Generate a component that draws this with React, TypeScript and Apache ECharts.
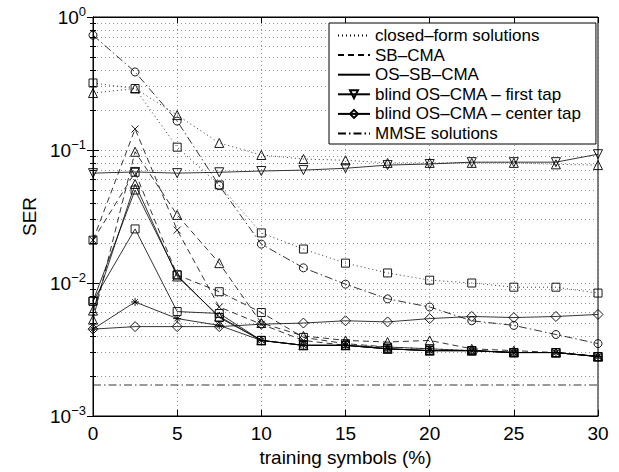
import React, { useEffect, useRef } from "react";
import * as echarts from "echarts";

const xs = [0, 2.5, 5, 7.5, 10, 12.5, 15, 17.5, 20, 22.5, 25, 27.5, 30];

// closed-form solutions (dotted)
const cfTri = [0.268, 0.29, 0.183, 0.113, 0.0917, 0.0855, 0.0837, 0.080, 0.080, 0.080, 0.080, 0.078, 0.077];
const cfSq = [0.319, 0.29, 0.105, 0.0546, 0.0238, 0.018, 0.0141, 0.0119, 0.0105, 0.0100, 0.0093, 0.0093, 0.0084];
// curve with circles (dash-dot)
const mmCirc = [0.73, 0.386, 0.165, 0.054, 0.0196, 0.013, 0.0098, 0.0076, 0.0066, 0.0052, 0.0048, 0.0041, 0.0035];
// SB-CMA (dashed)
const sbX = [0.021, 0.144, 0.025, 0.0066, 0.0049, 0.0037, 0.0034, 0.0033, 0.0032, 0.0031, 0.0030, 0.0030, 0.0028];
const sbTri = [0.0053, 0.097, 0.0325, 0.0141, 0.0050, 0.0040, 0.0037, 0.0036, 0.0037, 0.0032, 0.0031, 0.0030, 0.0028];
const sbSq = [0.021, 0.068, 0.0115, 0.0086, 0.0060, 0.0039, 0.0035, 0.0033, 0.0032, 0.0031, 0.0030, 0.0030, 0.0028];
// OS-SB-CMA (solid)
const osTri = [0.0062, 0.0555, 0.0112, 0.0056, 0.0037, 0.0034, 0.0034, 0.0032, 0.0031, 0.0031, 0.0030, 0.0030, 0.0028];
const osSqA = [0.0073, 0.050, 0.0115, 0.0055, 0.0037, 0.0034, 0.0034, 0.0032, 0.0031, 0.0031, 0.0030, 0.0030, 0.0028];
const osSqB = [0.0073, 0.0255, 0.0061, 0.0059, 0.0037, 0.0034, 0.0034, 0.0032, 0.0031, 0.0031, 0.0030, 0.0030, 0.0028];
const osStar = [0.0045, 0.0072, 0.0054, 0.0048, 0.0037, 0.0034, 0.0034, 0.0032, 0.0031, 0.0031, 0.0030, 0.0030, 0.0028];
// blind OS-CMA
const blindFirst = [0.067, 0.0684, 0.067, 0.068, 0.0695, 0.0706, 0.0729, 0.077, 0.0785, 0.081, 0.081, 0.081, 0.093];
const blindCenter = [0.0045, 0.0047, 0.0047, 0.0047, 0.0049, 0.0050, 0.0052, 0.0051, 0.0054, 0.0056, 0.0055, 0.0056, 0.0058];
// MMSE solutions (horizontal)
const mmseX = [0, 30];
const mmse = [0.00171, 0.00171];

const legendNames = [
  "closed–form solutions",
  "SB–CMA",
  "OS–SB–CMA",
  "blind OS–CMA – first tap",
  "blind OS–CMA – center tap",
  "MMSE solutions",
];
const legendHasMarker = [false, false, false, true, true, false];

const DOT = [1, 3];
const DASH = [6, 4];
const DASHDOT = [8, 3, 1.5, 3];
const SOLID = "solid";
const X_SYM = "path://M0,0L10,10M0,10L10,0";
const STAR_SYM = "path://M5,0L5,10M0,5L10,5M1.5,1.5L8.5,8.5M1.5,8.5L8.5,1.5";

function line(name: string, xv: number[], yv: number[], type: any, symbol: string, size = 8, rotate = 0, z = 2) {
  return {
    type: "line",
    name,
    data: xv.map((x, i) => [x, yv[i]]),
    symbol,
    symbolSize: size,
    symbolRotate: rotate,
    showSymbol: symbol !== "none",
    lineStyle: { color: "#000", width: 0.8, type },
    itemStyle: { color: "transparent", borderColor: "#000", borderWidth: 0.9 },
    emphasis: { disabled: true },
    z,
  };
}

export default function App() {
  const ref = useRef<HTMLDivElement>(null);
  useEffect(() => {
    if (!ref.current) return;
    const chart = echarts.init(ref.current, null, { renderer: "svg" });
    const font = "Liberation Sans, Arial, Helvetica, sans-serif";
    const grid = { left: 93, right: 21, top: 17, bottom: 56 };
    const gridLine = { show: true, lineStyle: { color: "#666", width: 0.7, type: DOT } };
    const series: any[] = [
      // legend entries
      line(legendNames[0], [], [], DOT, "none"),
      line(legendNames[1], [], [], DASH, "none"),
      line(legendNames[2], [], [], SOLID, "none"),
      line(legendNames[3], [], [], SOLID, "triangle", 8, 180),
      line(legendNames[4], [], [], SOLID, "diamond", 9),
      line(legendNames[5], [], [], DASHDOT, "none"),
      // data
      line("cfTri", xs, cfTri, DOT, "triangle", 9),
      line("cfSq", xs, cfSq, DOT, "rect", 8),
      line("mmCirc", xs, mmCirc, DASHDOT, "circle", 8),
      line("sbX", xs, sbX, DASH, X_SYM, 7),
      line("sbTri", xs, sbTri, DASH, "triangle", 9),
      line("sbSq", xs, sbSq, DASH, "rect", 8),
      line("osTri", xs, osTri, SOLID, "triangle", 9),
      line("osSqA", xs, osSqA, SOLID, "rect", 8),
      line("osSqB", xs, osSqB, SOLID, "rect", 8),
      line("osStar", xs, osStar, SOLID, STAR_SYM, 8),
      line("blindFirst", xs, blindFirst, SOLID, "triangle", 9, 180),
      line("blindCenter", xs, blindCenter, SOLID, "diamond", 10),
      line("mmse", mmseX, mmse, DASHDOT, "none"),
    ];
    chart.setOption({
      animation: false,
      backgroundColor: "#fff",
      textStyle: { fontFamily: font, color: "#000" },
      grid: { ...grid, show: true, borderColor: "#000", borderWidth: 1, backgroundColor: "transparent" },
      legend: {
        data: legendNames.map((n, i) =>
          legendHasMarker[i]
            ? { name: n }
            : { name: n, itemStyle: { color: "transparent", borderColor: "transparent", borderWidth: 0, opacity: 0 } }
        ),
        orient: "vertical",
        left: 329,
        top: 23,
        backgroundColor: "#fff",
        borderColor: "#000",
        borderWidth: 1,
        borderRadius: 0,
        padding: [4, 14, 2, 8],
        itemWidth: 32,
        itemHeight: 10,
        itemGap: 2.6,
        textStyle: { fontSize: 17, fontFamily: font, color: "#000" },
        selectedMode: false,
        z: 10,
      },
      xAxis: [
        {
          type: "value",
          min: 0,
          max: 30,
          interval: 5,
          name: "training symbols (%)",
          nameLocation: "middle",
          nameGap: 31,
          nameTextStyle: { fontSize: 19, fontFamily: font, color: "#000" },
          axisLine: { show: true, lineStyle: { color: "#000", width: 1 } },
          axisTick: { show: true, inside: true, length: 6, lineStyle: { color: "#000" } },
          axisLabel: { fontSize: 19, color: "#000", margin: 8, fontFamily: font },
          splitLine: gridLine,
        },
        {
          type: "value",
          position: "top",
          min: 0,
          max: 30,
          interval: 5,
          axisLine: { show: true, lineStyle: { color: "#000", width: 1 } },
          axisTick: { show: true, inside: true, length: 6, lineStyle: { color: "#000" } },
          axisLabel: { show: false },
          splitLine: { show: false },
        },
      ],
      yAxis: [
        {
          type: "log",
          logBase: 10,
          min: 0.001,
          max: 1,
          name: "SER",
          nameLocation: "middle",
          nameGap: 52,
          nameTextStyle: { fontSize: 19, fontFamily: font, color: "#000" },
          axisLine: { show: true, lineStyle: { color: "#000", width: 1 } },
          axisTick: { show: true, inside: true, length: 6, lineStyle: { color: "#000" } },
          minorTick: { show: true, splitNumber: 9, length: 3, lineStyle: { color: "#000" } },
          minorSplitLine: { show: true, lineStyle: { color: "#666", width: 0.7, type: DOT } },
          splitLine: gridLine,
          axisLabel: {
            margin: 7,
            fontFamily: font,
            formatter: (v: number) => {
              const e = Math.round(Math.log10(v));
              return "{b|10}{s|" + (e < 0 ? "−" + -e : String(e)) + "}";
            },
            rich: {
              b: { fontSize: 19, color: "#000", fontFamily: font, lineHeight: 25 },
              s: { fontSize: 13, color: "#000", fontFamily: font, verticalAlign: "top", lineHeight: 14 },
            },
          },
        },
        {
          type: "log",
          logBase: 10,
          min: 0.001,
          max: 1,
          position: "right",
          axisLine: { show: true, lineStyle: { color: "#000", width: 1 } },
          axisTick: { show: true, inside: true, length: 6, lineStyle: { color: "#000" } },
          minorTick: { show: true, splitNumber: 9, length: 3, lineStyle: { color: "#000" } },
          axisLabel: { show: false },
          splitLine: { show: false },
        },
      ],
      series,
    });
    return () => chart.dispose();
  }, []);
  return (
    <div
      ref={ref}
      style={{ position: "fixed", left: 0, top: 0, width: 619, height: 472, background: "#fff" }}
    />
  );
}
